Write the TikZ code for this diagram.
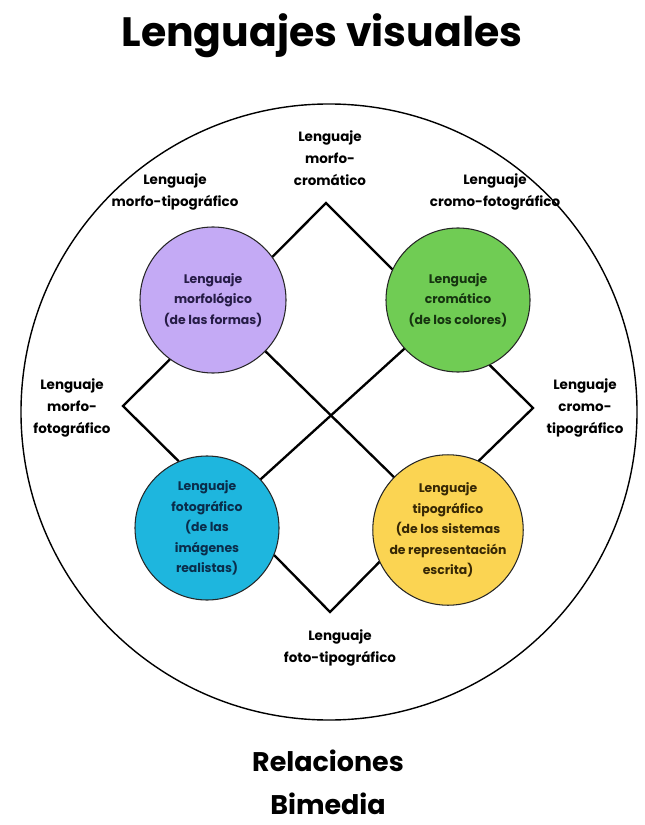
\documentclass[tikz,border=0pt]{standalone}
\usepackage{fontspec}
\setmainfont{Poppins}
\usetikzlibrary{backgrounds}
\definecolor{lila}{RGB}{196,170,245}
\definecolor{verde}{RGB}{112,204,84}
\definecolor{celeste}{RGB}{30,182,222}
\definecolor{amarillo}{RGB}{251,212,82}
\definecolor{txlila}{RGB}{38,28,70}
\definecolor{txverde}{RGB}{22,52,16}
\definecolor{txceleste}{RGB}{10,45,75}
\definecolor{txamarillo}{RGB}{55,40,5}
\begin{document}
\begin{tikzpicture}[x=0.03cm,y=-0.03cm,
  lang/.style={circle, draw=black!85, line width=0.9pt, inner sep=0pt,
    align=center, font=\fontsize{10.6}{17.6}\selectfont\bfseries},
  tag/.style={align=center, inner sep=0pt,
    font=\fontsize{11.5}{19}\selectfont\bfseries},
  link/.style={line width=2pt, line join=miter, line cap=round}]
\useasboundingbox (0,0) rectangle (644,825);

% title and caption
\node[font=\fontsize{35}{40}\selectfont\bfseries] (title) at (322,36) {Lenguajes visuales};
\node[align=center, font=\fontsize{23}{37}\selectfont\bfseries] (caption) at (328,782) {Relaciones\\Bimedia};

% outer ring
\node[circle, draw, line width=1.2pt, minimum size=18.48cm] (ring) at (329,412) {};

% the four languages
\node[lang, fill=lila, text=txlila, minimum size=4.38cm] (morfo) at (213,300)
  {Lenguaje\\morfológico\\(de las formas)};
\node[lang, fill=verde, text=txverde, minimum size=4.32cm] (cromo) at (458,300)
  {Lenguaje\\cromático\\(de los colores)};
\node[lang, fill=celeste, text=txceleste, minimum size=4.32cm] (foto) at (207,528)
  {Lenguaje\\fotográfico\\(de las\\imágenes\\realistas)};
\node[lang, fill=amarillo, text=txamarillo, minimum size=4.44cm] (tipo) at (448,530)
  {Lenguaje\\tipográfico\\(de los sistemas\\de representación\\escrita)};

% corners of the outer frame
\coordinate (vtop) at (326,203);
\coordinate (vleft) at (123,406);
\coordinate (vright) at (533,408);
\coordinate (vbottom) at (330,612);

\begin{pgfonlayer}{background}
  \draw[link] (morfo.36) -- (vtop) -- (cromo.155);
  \draw[link] (morfo.234) -- (vleft) -- (foto.113);
  \draw[link] (cromo.-64) -- (vright) -- (tipo.66);
  \draw[link] (foto.-22) -- (vbottom) -- (tipo.205);
  \draw[link] (morfo.center) -- (tipo.center);
  \draw[link] (cromo.center) -- (foto.center);
\end{pgfonlayer}

% pairwise combinations
\node[tag] (mc) at (330,158) {Lenguaje\\morfo-\\cromático};
\node[tag] (mt) at (175,192) {Lenguaje\\morfo-tipográfico};
\node[tag] (cf) at (495,192) {Lenguaje\\cromo-fotográfico};
\node[tag] (mf) at (72,408) {Lenguaje\\morfo-\\fotográfico};
\node[tag] (ct) at (585,408) {Lenguaje\\cromo-\\tipográfico};
\node[tag] (ft) at (340,648) {Lenguaje\\foto-tipográfico};
\end{tikzpicture}
\end{document}
